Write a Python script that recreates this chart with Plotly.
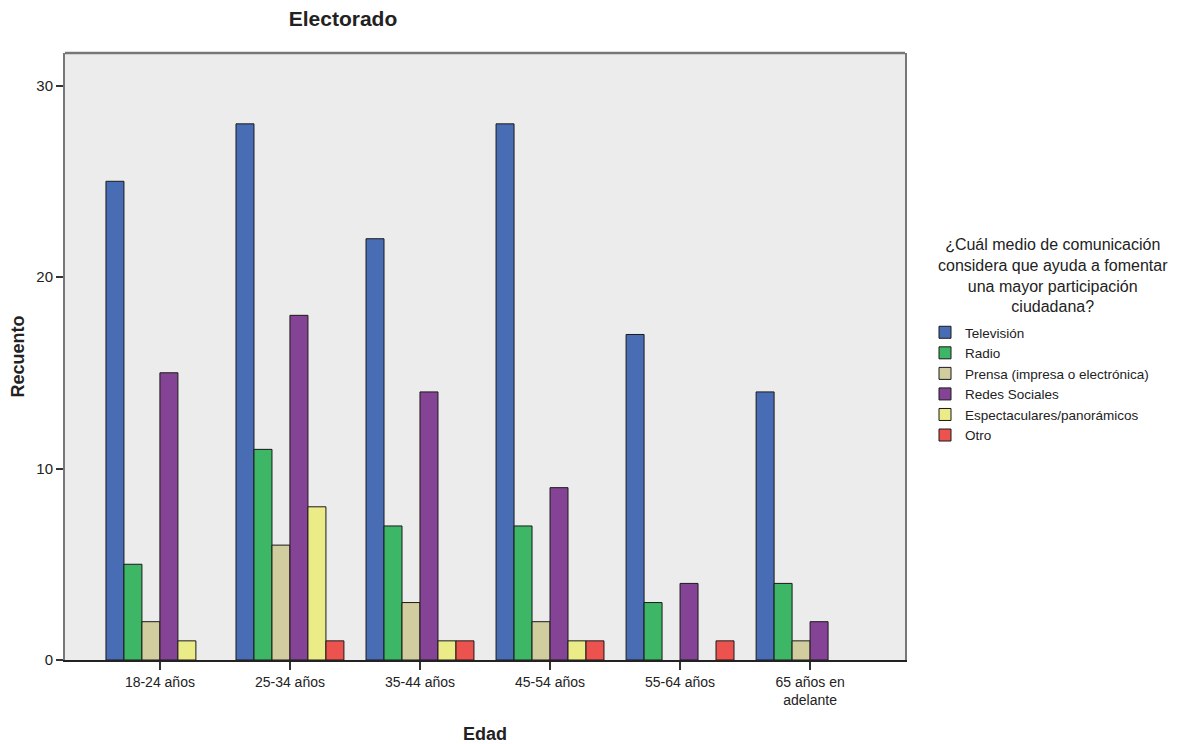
import plotly.graph_objects as go

categories = ["18-24 años", "25-34 años", "35-44 años", "45-54 años", "55-64 años", "65 años en<br>adelante"]
series_names = ["Televisión", "Radio", "Prensa (impresa o electrónica)", "Redes Sociales",
                "Espectaculares/panorámicos", "Otro"]
television = [25, 28, 22, 28, 17, 14]
radio = [5, 11, 7, 7, 3, 4]
prensa = [2, 6, 3, 2, 0, 1]
redes = [15, 18, 14, 9, 4, 2]
espectaculares = [1, 8, 1, 1, 0, 0]
otro = [0, 1, 1, 1, 1, 0]
colors = ["#486DB4", "#3DB766", "#D1CD9F", "#844394", "#EBEB87", "#EC534F"]
y_ticks = [0, 10, 20, 30]

series = [television, radio, prensa, redes, espectaculares, otro]
FONT = "Liberation Sans, Arial, sans-serif"

fig = go.Figure()
for name, vals, col in zip(series_names, series, colors):
    fig.add_trace(go.Bar(
        name=name, x=categories, y=[v if v else None for v in vals],
        marker=dict(color=col, line=dict(color="#1a1a1a", width=1)),
    ))

# page body adds an ~8px offset; compensate
OX, OY = 8, 8
W, H = 1197 - OX, 744 - OY
L, R, T, B = 65 - OX, 905 - OX, 53 - OY, 660 - OY

fig.update_layout(
    width=W, height=H,
    margin=dict(l=L, r=W - R, t=T, b=H - B, autoexpand=False),
    paper_bgcolor="white", plot_bgcolor="#EBECEB",
    barmode="group", bargap=0.17, bargroupgap=0,
    font=dict(family=FONT, size=13, color="#222"),
    title=dict(text="<b>Electorado</b>", x=(343 - OX) / W, xanchor="center",
               y=1 - (19 - OY) / H, yanchor="middle", font=dict(size=21, color="#222")),
    showlegend=True,
    legend=dict(x=(925 - OX - L) / (R - L), xanchor="left", y=(B - (317 - OY)) / (B - T), yanchor="top",
                font=dict(size=13.5, color="#222"), bgcolor="rgba(0,0,0,0)",
                tracegroupgap=0, itemwidth=30),
    xaxis=dict(range=[-0.73, 5.73], showline=True, linecolor="#222", linewidth=1.5, mirror=False,
               ticks="outside", ticklen=8, tickcolor="#333", tickwidth=1.5,
               tickfont=dict(size=14), showgrid=False,
               title=dict(text="<b>Edad</b>", font=dict(size=18), standoff=28)),
    yaxis=dict(range=[0, 31.7], tickvals=y_ticks, showline=True, linecolor="#777", linewidth=2,
               mirror=True, ticks="outside", ticklen=7, tickcolor="#333", tickwidth=1.5,
               tickfont=dict(size=15), showgrid=False, zeroline=False,
               title=dict(text="<b>Recuento</b>", font=dict(size=18), standoff=14)),
    shapes=[dict(type="line", xref="paper", yref="paper", x0=0, x1=1, y0=1, y1=1,
                 line=dict(color="#777", width=2.5))],
    annotations=[dict(
        text="¿Cuál medio de comunicación<br>considera que ayuda a fomentar<br>una mayor participación<br>ciudadana?",
        xref="paper", yref="paper", x=(1053 - OX - L) / (R - L), y=(B - (234 - OY)) / (B - T),
        xanchor="center", yanchor="top", align="center", showarrow=False,
        font=dict(size=16, color="#222"))],
)

fig.write_html("out.html")
